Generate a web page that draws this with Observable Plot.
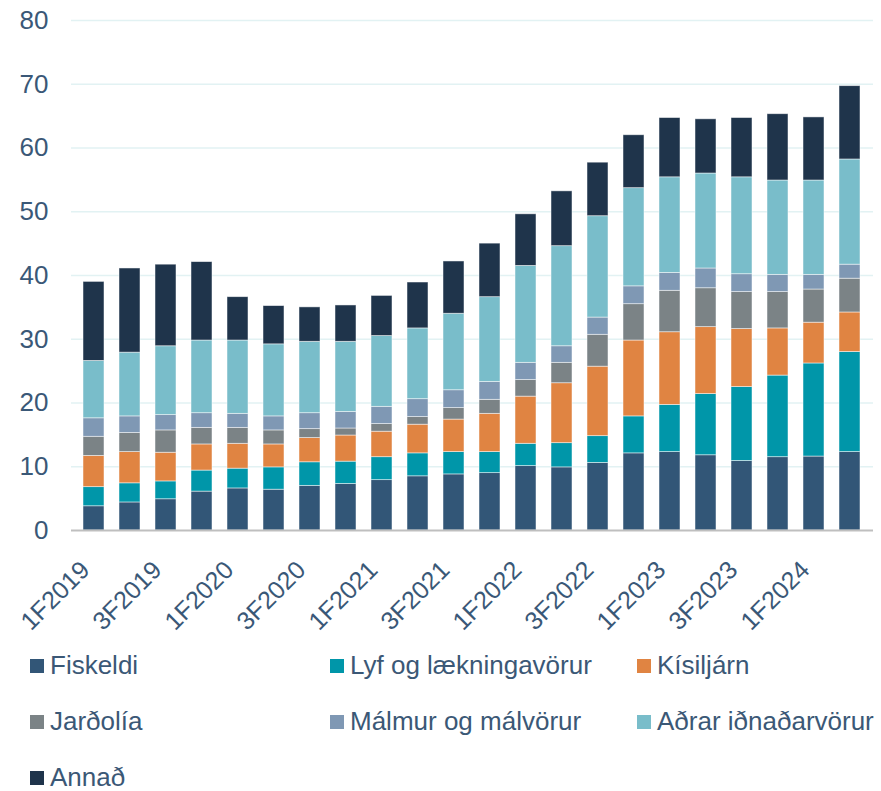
<!DOCTYPE html>
<html><head><meta charset="utf-8">
<script src="https://cdn.jsdelivr.net/npm/d3@7"></script>
<script src="https://cdn.jsdelivr.net/npm/@observablehq/plot@0.6"></script>
<style>
body{margin:0;background:#fff;font-family:"Liberation Sans",Arial,sans-serif;overflow:hidden;}
#legend{display:grid;grid-template-columns:300px 307px auto;grid-auto-rows:56px;padding-left:30px;margin-top:-2px;color:#3b5876;font-size:26px;line-height:0.9;}
.item{display:flex;align-items:center;white-space:nowrap;}
.sw{width:14px;height:14px;margin-right:6px;flex:none;}
</style></head><body><div id="chart"></div><div id="legend"></div>
<script>
const quarters = ["1F2019","2F2019","3F2019","4F2019","1F2020","2F2020","3F2020","4F2020","1F2021","2F2021","3F2021","4F2021","1F2022","2F2022","3F2022","4F2022","1F2023","2F2023","3F2023","4F2023","1F2024","2F2024"];
const tickLabels = ["1F2019","3F2019","1F2020","3F2020","1F2021","3F2021","1F2022","3F2022","1F2023","3F2023","1F2024"];
const series = ["Fiskeldi","Lyf og lækningavörur","Kísiljárn","Jarðolía","Málmur og málvörur","Aðrar iðnaðarvörur","Annað"];
const colors = ["#325677","#0096a9","#e08442","#7b8386","#7f98b4","#79bdca","#1f344b"];
const fiskeldi = [3.8,4.4,4.9,6.1,6.6,6.4,7.0,7.3,7.9,8.5,8.8,9.0,10.1,9.9,10.6,12.1,12.3,11.8,10.9,11.5,11.6,12.3];
const lyf      = [3.0,3.0,2.8,3.3,3.1,3.5,3.7,3.5,3.6,3.6,3.5,3.3,3.5,3.8,4.2,5.8,7.4,9.6,11.6,12.8,14.6,15.7];
const kisiljarn= [4.9,4.9,4.5,4.1,3.9,3.6,3.8,4.1,4.0,4.5,5.1,6.0,7.4,9.4,10.9,11.9,11.4,10.5,9.1,7.4,6.4,6.2];
const jardolia = [3.0,3.0,3.5,2.6,2.5,2.2,1.4,1.1,1.2,1.2,1.8,2.2,2.6,3.2,5.0,5.7,6.5,6.1,5.8,5.7,5.2,5.3];
const malmur   = [2.9,2.6,2.4,2.3,2.2,2.2,2.5,2.6,2.7,2.8,2.8,2.8,2.7,2.6,2.7,2.8,2.8,3.1,2.8,2.7,2.3,2.2];
const adrar    = [9.0,10.0,10.8,11.4,11.5,11.3,11.2,11.0,11.1,11.1,12.0,13.3,15.2,15.7,15.9,15.4,15.0,14.9,15.2,14.8,14.8,16.5];
const annad    = [12.4,13.2,12.8,12.3,6.8,6.0,5.4,5.7,6.3,7.2,8.2,8.4,8.1,8.6,8.4,8.3,9.3,8.5,9.3,10.4,9.9,11.5];
const yTicks = [0,10,20,30,40,50,60,70,80];

const values = [fiskeldi, lyf, kisiljarn, jardolia, malmur, adrar, annad];
const rows = [];
quarters.forEach((q, i) => series.forEach((s, j) => rows.push({quarter: q, series: s, value: values[j][i]})));
const textColor = "#3a5877";

const chart = Plot.plot({
  width: 881, height: 640,
  marginTop: 20, marginBottom: 110, marginLeft: 71, marginRight: 8,
  style: {fontFamily: "'Liberation Sans', Arial, sans-serif", background: "#fff", color: textColor},
  x: {domain: quarters, paddingInner: 0.416, paddingOuter: 0.19, axis: null},
  y: {domain: [0, 80]},
  color: {domain: series, range: colors},
  marks: [
    Plot.gridY(yTicks.slice(1), {stroke: "#e2f2f3", strokeOpacity: 1, strokeWidth: 1.5}),
    Plot.axisY({ticks: yTicks, tickSize: 0, tickPadding: 23, fontSize: 26, label: null, fill: textColor}),
    Plot.barY(rows, {x: "quarter", y: "value", fill: "series", order: series, stroke: "#ffffff", strokeWidth: 0.8, strokeOpacity: 0.6}),
    Plot.ruleY([0], {stroke: "#bfbfbf", strokeWidth: 2}),
    Plot.text(tickLabels, {x: d => d, text: d => d, frameAnchor: "bottom", rotate: -45, textAnchor: "end", lineAnchor: "bottom", dx: -3, dy: 41, fontSize: 25, fill: textColor})
  ]
});
document.getElementById("chart").appendChild(chart);

const legend = document.getElementById("legend");
series.forEach((s, i) => {
  const it = document.createElement("div");
  it.className = "item";
  const sw = document.createElement("span");
  sw.className = "sw";
  sw.style.background = colors[i];
  const t = document.createElement("span");
  t.textContent = s;
  it.appendChild(sw); it.appendChild(t);
  legend.appendChild(it);
});
</script></body></html>
